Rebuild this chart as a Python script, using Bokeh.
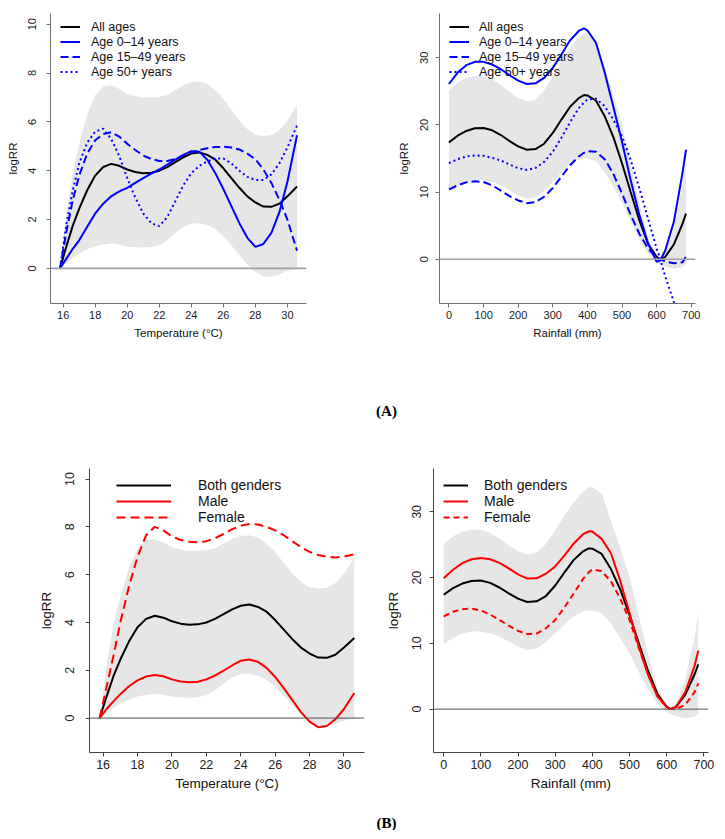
from bokeh.plotting import figure
from bokeh.layouts import column, row
from bokeh.models import Range1d, FixedTicker, Legend, LegendItem, Span, Label
from bokeh.embed import file_html
from bokeh.resources import INLINE

# ---------------- data ----------------
TEMP = [15.8, 16.2, 16.6, 17.0, 17.5, 18.0, 18.5, 19.0, 19.5, 20.0, 20.5, 21.0, 21.5, 22.0, 22.5,
        23.0, 23.5, 24.0, 24.5, 25.0, 25.5, 26.0, 26.5, 27.0, 27.5, 28.0, 28.5, 29.0, 29.5, 30.0, 30.6]
TEMP_ALL = [0, 0.9, 1.75, 2.45, 3.2, 3.8, 4.15, 4.28, 4.2, 4.05, 3.95, 3.9, 3.92, 4.0, 4.15,
            4.35, 4.55, 4.7, 4.75, 4.65, 4.45, 4.1, 3.7, 3.3, 2.95, 2.7, 2.53, 2.52, 2.65, 2.95, 3.35]
TEMP_AGE_0_14 = [0, 0.4, 0.8, 1.15, 1.7, 2.25, 2.65, 2.95, 3.15, 3.3, 3.5, 3.7, 3.88, 4.05, 4.25,
                 4.45, 4.65, 4.8, 4.78, 4.45, 3.9, 3.25, 2.55, 1.85, 1.25, 0.88, 1.0, 1.45, 2.3, 3.55, 5.45]
TEMP_AGE_15_49 = [0, 1.5, 2.8, 3.8, 4.7, 5.25, 5.5, 5.58, 5.4, 5.1, 4.85, 4.62, 4.48, 4.4, 4.4,
                  4.48, 4.62, 4.75, 4.85, 4.92, 4.97, 4.98, 4.95, 4.87, 4.7, 4.47, 4.05, 3.5, 2.8, 2.0, 0.72]
TEMP_AGE_50 = [0, 1.8, 3.2, 4.3, 5.15, 5.6, 5.72, 5.3, 4.6, 3.7, 2.9, 2.25, 1.85, 1.73, 2.1,
               2.75, 3.4, 3.9, 4.2, 4.38, 4.5, 4.5, 4.3, 4.0, 3.75, 3.62, 3.62, 3.85, 4.3, 4.95, 5.85]
TEMP_CI_HIGH = [0, 2.2, 3.9, 5.1, 6.3, 7.1, 7.45, 7.5, 7.35, 7.15, 7.05, 7.0, 7.0, 7.02, 7.1,
                7.3, 7.5, 7.62, 7.65, 7.55, 7.3, 6.95, 6.5, 6.05, 5.7, 5.47, 5.42, 5.45, 5.65, 6.05, 6.7]
TEMP_CI_LOW = [0, 0.22, 0.42, 0.6, 0.78, 0.9, 0.98, 1.02, 0.98, 0.9, 0.86, 0.85, 0.88, 0.95, 1.15,
               1.45, 1.7, 1.83, 1.85, 1.78, 1.6, 1.3, 0.95, 0.55, 0.15, -0.15, -0.32, -0.35, -0.25, -0.1, -0.02]
TEMP_MALE = [0, 0.38, 0.7, 1.0, 1.33, 1.58, 1.74, 1.8, 1.75, 1.62, 1.53, 1.5, 1.52, 1.62, 1.78,
             1.98, 2.2, 2.4, 2.45, 2.35, 2.1, 1.72, 1.25, 0.75, 0.25, -0.15, -0.38, -0.33, -0.05, 0.38, 1.05]
TEMP_FEMALE = [0, 1.3, 2.6, 4.0, 5.5, 6.75, 7.65, 8.0, 7.85, 7.6, 7.45, 7.38, 7.35, 7.4, 7.52,
               7.7, 7.9, 8.05, 8.12, 8.1, 8.0, 7.85, 7.65, 7.4, 7.15, 6.95, 6.82, 6.75, 6.72, 6.75, 6.85]

RAIN = [0, 25, 50, 75, 100, 125, 150, 175, 200, 225, 250, 275, 300, 325, 350,
        375, 390, 400, 425, 450, 475, 500, 525, 550, 575, 600, 610, 625, 650, 675, 685]
RAIN_ALL = [17.4, 18.4, 19.1, 19.5, 19.55, 19.2, 18.5, 17.6, 16.8, 16.3, 16.4, 17.2, 18.8, 20.8, 22.7,
            24.0, 24.45, 24.4, 23.6, 21.3, 18.2, 14.3, 10.0, 5.8, 2.3, 0.35, 0.0, 0.35, 2.2, 5.3, 6.8]
RAIN_AGE_0_14 = [26.1, 27.8, 28.9, 29.4, 29.4, 29.0, 28.3, 27.4, 26.6, 26.1, 26.2, 27.0, 28.5, 30.5, 32.6,
                 34.0, 34.4, 34.1, 32.2, 27.8, 22.7, 17.5, 11.8, 6.6, 2.4, -0.4, -0.2, 1.3, 5.6, 12.9, 16.3]
RAIN_AGE_15_49 = [10.4, 11.0, 11.45, 11.6, 11.5, 11.0, 10.2, 9.4, 8.75, 8.35, 8.5, 9.3, 10.6, 12.3, 14.0,
                  15.3, 15.85, 16.1, 16.0, 14.9, 12.7, 9.8, 6.6, 3.8, 1.6, 0.2, 0.0, -0.35, -0.6, -0.45, 0.4]
RAIN_AGE_50 = [14.3, 14.9, 15.3, 15.45, 15.4, 15.1, 14.7, 14.1, 13.55, 13.3, 13.6, 14.5, 16.0, 18.1, 20.4,
               22.5, 23.3, 23.8, 23.9, 22.8, 20.8, 18.3, 14.8, 10.6, 6.1, 1.6, 0.1, -2.6, -6.4, -10.0, -11.5]
RAIN_CI_HIGH = [25.1, 26.3, 27.0, 27.3, 27.3, 26.8, 25.9, 24.9, 24.0, 23.5, 23.8, 25.1, 27.2, 29.5, 31.5,
                33.1, 33.7, 33.8, 32.8, 28.7, 24.5, 20.1, 14.2, 8.3, 3.2, 0.6, 0.2, 0.8, 4.5, 11.0, 14.6]
RAIN_CI_LOW = [9.9, 10.8, 11.5, 11.8, 11.8, 11.5, 11.0, 10.3, 9.5, 9.0, 9.2, 10.2, 11.5, 12.9, 14.1,
               14.9, 15.0, 15.0, 14.6, 13.0, 10.8, 8.5, 5.6, 2.9, 0.9, -0.5, -0.8, -1.1, -1.4, -1.2, -0.7]
RAIN_MALE = [19.9, 21.2, 22.2, 22.8, 23.0, 22.8, 22.25, 21.4, 20.5, 19.85, 19.9, 20.6, 21.7, 23.4, 25.2,
             26.6, 27.05, 27.0, 25.9, 23.7, 19.5, 14.6, 9.5, 5.2, 1.9, 0.3, 0.0, 0.3, 2.6, 6.6, 8.9]
RAIN_FEMALE = [14.1, 14.8, 15.2, 15.3, 15.0, 14.4, 13.55, 12.7, 11.9, 11.4, 11.5, 12.3, 13.55, 15.5, 17.6,
               19.8, 20.8, 21.25, 21.0, 19.4, 16.8, 13.55, 9.3, 5.3, 2.0, 0.35, 0.05, 0.0, 0.65, 2.6, 3.9]

TEMP_TICKS = [16, 18, 20, 22, 24, 26, 28, 30]
RAIN_TICKS = [0, 100, 200, 300, 400, 500, 600, 700]
TEMP_Y_TICKS = [0, 2, 4, 6, 8, 10]
RAIN_Y_TICKS = [0, 10, 20, 30]
TEMP_YLIM = (-1, 10)
RAIN_YLIM = (-5, 35)

AGE_LABELS = ["All ages", "Age 0\u201314 years", "Age 15\u201349 years", "Age 50+ years"]
GENDER_LABELS = ["Both genders", "Male", "Female"]
PANEL_LABELS = ["(A)", "(B)"]

FONT = "Liberation Sans"
BAND = "#E6E6E6"
BLUE = "#0000FF"
RED = "#FF0000"


def expand(lo, hi):
    d = (hi - lo) * 0.04
    return (lo - d, hi + d)


def panel(xdata, ylim, xticks, yticks, xlabel, g, fs_tick, fs_lab, axis_col, zero_col, zero_w):
    xr = expand(min(xdata), max(xdata))
    yr = expand(*ylim)
    p = figure(frame_width=g["fw"], frame_height=g["fh"],
               min_border_left=g["l"], min_border_right=g["r"],
               min_border_top=g["t"], min_border_bottom=g["b"],
               x_range=Range1d(*xr), y_range=Range1d(*yr),
               output_backend="svg", toolbar_location=None)
    p.outline_line_color = None
    p.xgrid.grid_line_color = None
    p.ygrid.grid_line_color = None
    p.background_fill_color = "white"
    p.border_fill_color = "white"
    for ax in (p.xaxis[0], p.yaxis[0]):
        ax.axis_line_color = axis_col
        ax.axis_line_width = 1
        ax.major_tick_line_color = axis_col
        ax.major_tick_out = 4
        ax.major_tick_in = 0
        ax.minor_tick_line_color = None
        ax.major_label_text_font = FONT
        ax.major_label_text_font_size = fs_tick
        ax.major_label_text_color = "#222222"
        ax.axis_label_text_font = FONT
        ax.axis_label_text_font_size = fs_lab
        ax.axis_label_text_font_style = "normal"
        ax.axis_label_text_color = "#111111"
    p.xaxis.ticker = FixedTicker(ticks=xticks)
    p.yaxis.ticker = FixedTicker(ticks=yticks)
    p.yaxis.major_label_orientation = "vertical"
    p.xaxis.axis_label = xlabel
    p.yaxis.axis_label = "logRR"
    p.xaxis.major_label_standoff = g["xs1"]
    p.xaxis.axis_label_standoff = g["xs2"]
    p.yaxis.major_label_standoff = g["ys1"]
    p.yaxis.axis_label_standoff = g["ys2"]
    p.add_layout(Span(location=0, dimension="width", line_color=zero_col, line_width=zero_w))
    return p


def add_legend(p, items, g, fs):
    leg = Legend(items=[LegendItem(label=l, renderers=[r]) for l, r in items],
                 location=(g["lx"], g["ly"]), glyph_width=g["gw"], glyph_height=g["gh"],
                 label_height=g["gh"], label_standoff=g["ls"], spacing=0, padding=0, margin=0,
                 background_fill_alpha=0, border_line_alpha=0,
                 label_text_font=FONT, label_text_font_size=fs, label_text_color="#111111")
    p.add_layout(leg)


GT_L = dict(fw=256, fh=290, l=50, r=56, t=13, b=42, xs1=3, xs2=5, ys1=10, ys2=7,
            lx=10, ly=224, gw=20, gh=15, ls=11)
GT_R = dict(fw=256, fh=290, l=77, r=22, t=13, b=42, xs1=3, xs2=5, ys1=7, ys2=8,
            lx=10, ly=224, gw=20, gh=15, ls=10)
GB_L = dict(fw=275, fh=284, l=89, r=6, t=28, b=48, xs1=3, xs2=4, ys1=11, ys2=9,
            lx=27, ly=227, gw=55, gh=16, ls=27)
GB_R = dict(fw=275, fh=284, l=63, r=9, t=28, b=48, xs1=3, xs2=4, ys1=8, ys2=9,
            lx=10, ly=227, gw=25, gh=16, ls=16)

TOP_AX = "#707070"
BOT_AX = "#444444"

# ---- (A) temperature, age groups ----
p1 = panel(TEMP, TEMP_YLIM, TEMP_TICKS, TEMP_Y_TICKS, "Temperature (\u00b0C)", GT_L,
           "11px", "11.5px", TOP_AX, "#A0A0A0", 1.6)
p1.varea(x=TEMP, y1=TEMP_CI_LOW, y2=TEMP_CI_HIGH, color=BAND)
a1 = p1.line(TEMP, TEMP_ALL, line_color="black", line_width=2)
a2 = p1.line(TEMP, TEMP_AGE_0_14, line_color=BLUE, line_width=2)
a3 = p1.line(TEMP, TEMP_AGE_15_49, line_color=BLUE, line_width=2, line_dash="8 4")
a4 = p1.line(TEMP, TEMP_AGE_50, line_color=BLUE, line_width=2, line_dash="2 3")
add_legend(p1, list(zip(AGE_LABELS, [a1, a2, a3, a4])), GT_L, "12.5px")

# ---- (A) rainfall, age groups ----
p2 = panel(RAIN, RAIN_YLIM, RAIN_TICKS, RAIN_Y_TICKS, "Rainfall (mm)", GT_R,
           "11px", "11.5px", TOP_AX, "#A0A0A0", 1.6)
p2.varea(x=RAIN, y1=RAIN_CI_LOW, y2=RAIN_CI_HIGH, color=BAND)
b1 = p2.line(RAIN, RAIN_ALL, line_color="black", line_width=2)
b2 = p2.line(RAIN, RAIN_AGE_0_14, line_color=BLUE, line_width=2)
b3 = p2.line(RAIN, RAIN_AGE_15_49, line_color=BLUE, line_width=2, line_dash="8 4")
b4 = p2.line(RAIN, RAIN_AGE_50, line_color=BLUE, line_width=2, line_dash="2 3")
add_legend(p2, list(zip(AGE_LABELS, [b1, b2, b3, b4])), GT_R, "12.5px")

# ---- (B) temperature, genders ----
p3 = panel(TEMP, TEMP_YLIM, TEMP_TICKS, TEMP_Y_TICKS, "Temperature (\u00b0C)", GB_L,
           "12.5px", "13.5px", BOT_AX, "#505050", 1)
p3.varea(x=TEMP, y1=TEMP_CI_LOW, y2=TEMP_CI_HIGH, color=BAND)
c1 = p3.line(TEMP, TEMP_ALL, line_color="black", line_width=2)
c2 = p3.line(TEMP, TEMP_MALE, line_color=RED, line_width=2)
c3 = p3.line(TEMP, TEMP_FEMALE, line_color=RED, line_width=2, line_dash="9 5")
add_legend(p3, list(zip(GENDER_LABELS, [c1, c2, c3])), GB_L, "14px")

# ---- (B) rainfall, genders ----
p4 = panel(RAIN, RAIN_YLIM, RAIN_TICKS, RAIN_Y_TICKS, "Rainfall (mm)", GB_R,
           "12.5px", "13.5px", BOT_AX, "#505050", 1)
p4.varea(x=RAIN, y1=RAIN_CI_LOW, y2=RAIN_CI_HIGH, color=BAND)
d1 = p4.line(RAIN, RAIN_ALL, line_color="black", line_width=2)
d2 = p4.line(RAIN, RAIN_MALE, line_color=RED, line_width=2)
d3 = p4.line(RAIN, RAIN_FEMALE, line_color=RED, line_width=2, line_dash="6 4")
add_legend(p4, list(zip(GENDER_LABELS, [d1, d2, d3])), GB_R, "14px")


def label_fig(text, w, h, xc, yc):
    f = figure(width=w, height=h, x_range=Range1d(0, w), y_range=Range1d(0, h),
               min_border=0, x_axis_type=None, y_axis_type=None,
               output_backend="svg", toolbar_location=None)
    f.outline_line_color = None
    f.grid.visible = False
    f.add_layout(Label(x=xc, y=h - yc, text=text, text_align="center", text_baseline="middle",
                       text_font="Liberation Serif", text_font_style="bold",
                       text_font_size="15px", text_color="black"))
    return f


layout = column(row(p1, p2), label_fig(PANEL_LABELS[0], 717, 95, 386, 65),
                row(p3, p4), label_fig(PANEL_LABELS[1], 717, 30, 386, 22))

open("out.html", "w").write(file_html(layout, INLINE))
